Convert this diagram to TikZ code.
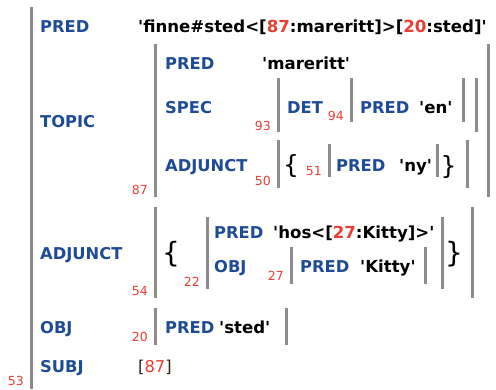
\documentclass[tikz,border=0pt]{standalone}
\usepackage{fontspec}
\setmainfont{DejaVu Sans}
\newfontfamily\fsf{DejaVu Sans}[Ligatures=Common]
\definecolor{fblue}{RGB}{30,75,150}
\definecolor{fred}{RGB}{232,62,52}
\definecolor{fgray}{RGB}{140,140,140}
\definecolor{fbrk}{RGB}{40,30,20}
\begin{document}
\begin{tikzpicture}[x=1pt,y=-1pt,
  attr/.style={font=\fsf\fontsize{16.3}{18}\selectfont\bfseries, text=fblue, anchor=base west, inner sep=0pt},
  val/.style={font=\fsf\fontsize{16.6}{18}\selectfont\bfseries, text=black, anchor=base west, inner sep=0pt},
  idx/.style={font=\fsf\fontsize{12.5}{14}\selectfont, text=fred, anchor=base east, inner sep=0pt},
  brc/.style={font=\fsf\fontsize{#1}{#1}\selectfont, text=black, anchor=center, inner sep=0pt},
  bar/.style={draw=fgray, line width=3pt}]
\useasboundingbox (0,0) rectangle (496,389);
% bars
\draw[bar] (31,7) -- (31,389);
\draw[bar] (155,44) -- (155,197);
\draw[bar] (488,44) -- (488,197);
\draw[bar] (278,78) -- (278,132);
\draw[bar] (476,78) -- (476,132);
\draw[bar] (351,78) -- (351,122);
\draw[bar] (463,78) -- (463,122);
\draw[bar] (278,140) -- (278,188);
\draw[bar] (467,140) -- (467,188);
\draw[bar] (329,144) -- (329,177);
\draw[bar] (437,144) -- (437,177);
\draw[bar] (155,207) -- (155,298);
\draw[bar] (472,207) -- (472,298);
\draw[bar] (207,217) -- (207,289);
\draw[bar] (442,217) -- (442,289);
\draw[bar] (291,247) -- (291,284);
\draw[bar] (425,247) -- (425,284);
\draw[bar] (155,308) -- (155,345);
\draw[bar] (286,308) -- (286,345);
% outer
\node[attr] (pred0) at (40,32) {PRED};
\node[val] (pred0v) at (138,32) {'finne\#sted<[\textcolor{fred}{87}:mareritt]>[\textcolor{fred}{20}:sted]'};
\node[attr] (topic) at (40,127.5) {TOPIC};
\node[idx] (i87) at (148,194) {87};
% topic
\node[attr] (pred1) at (165,69) {PRED};
\node[val] (pred1v) at (262,69) {'mareritt'};
\node[attr] (spec) at (165,113) {SPEC};
\node[idx] (i93) at (271,130) {93};
\node[attr] (det) at (287,113) {DET};
\node[idx] (i94) at (344,120.5) {94};
\node[attr] (pred2) at (360,113) {PRED};
\node[val] (pred2v) at (419,113) {'en'};
\node[attr] (adj1) at (165,171.5) {ADJUNCT};
\node[idx] (i50) at (271,185.5) {50};
\node[brc=25] (lb1) at (291,166) {\{};
\node[idx] (i51) at (322,175.5) {51};
\node[attr] (pred3) at (336,171) {PRED};
\node[val] (pred3v) at (399,171) {'ny'};
\node[brc=25] (rb1) at (448.5,167) {\}};
% outer adjunct
\node[attr] (adj0) at (40,259.3) {ADJUNCT};
\node[idx] (i54) at (148,295.7) {54};
\node[brc=28] (lb2) at (171,254.5) {\{};
\node[idx] (i22) at (200,286.7) {22};
\node[attr] (pred4) at (214,238.3) {PRED};
\node[val] (pred4v) at (273,238.3) {'hos<[\textcolor{fred}{27}:Kitty]>'};
\node[attr] (obj1) at (214,272.3) {OBJ};
\node[idx] (i27) at (284,280.7) {27};
\node[attr] (pred5) at (300,272.3) {PRED};
\node[val] (pred5v) at (360,272.3) {'Kitty'};
\node[brc=28] (rb2) at (454,254.5) {\}};
% obj
\node[attr] (obj0) at (40,333.3) {OBJ};
\node[idx] (i20) at (148,341.7) {20};
\node[attr] (pred6) at (165,333.3) {PRED};
\node[val] (pred6v) at (219,333.3) {'sted'};
% subj
\node[attr] (subj) at (40,372.7) {SUBJ};
\node[anchor=base west, inner sep=0pt, font=\fsf\fontsize{16.3}{18}\selectfont, text=fbrk] (subjv) at (138,372.7) {[\textcolor{fred}{87}]};
\node[idx] (i53) at (24,385) {53};
\end{tikzpicture}
\end{document}
